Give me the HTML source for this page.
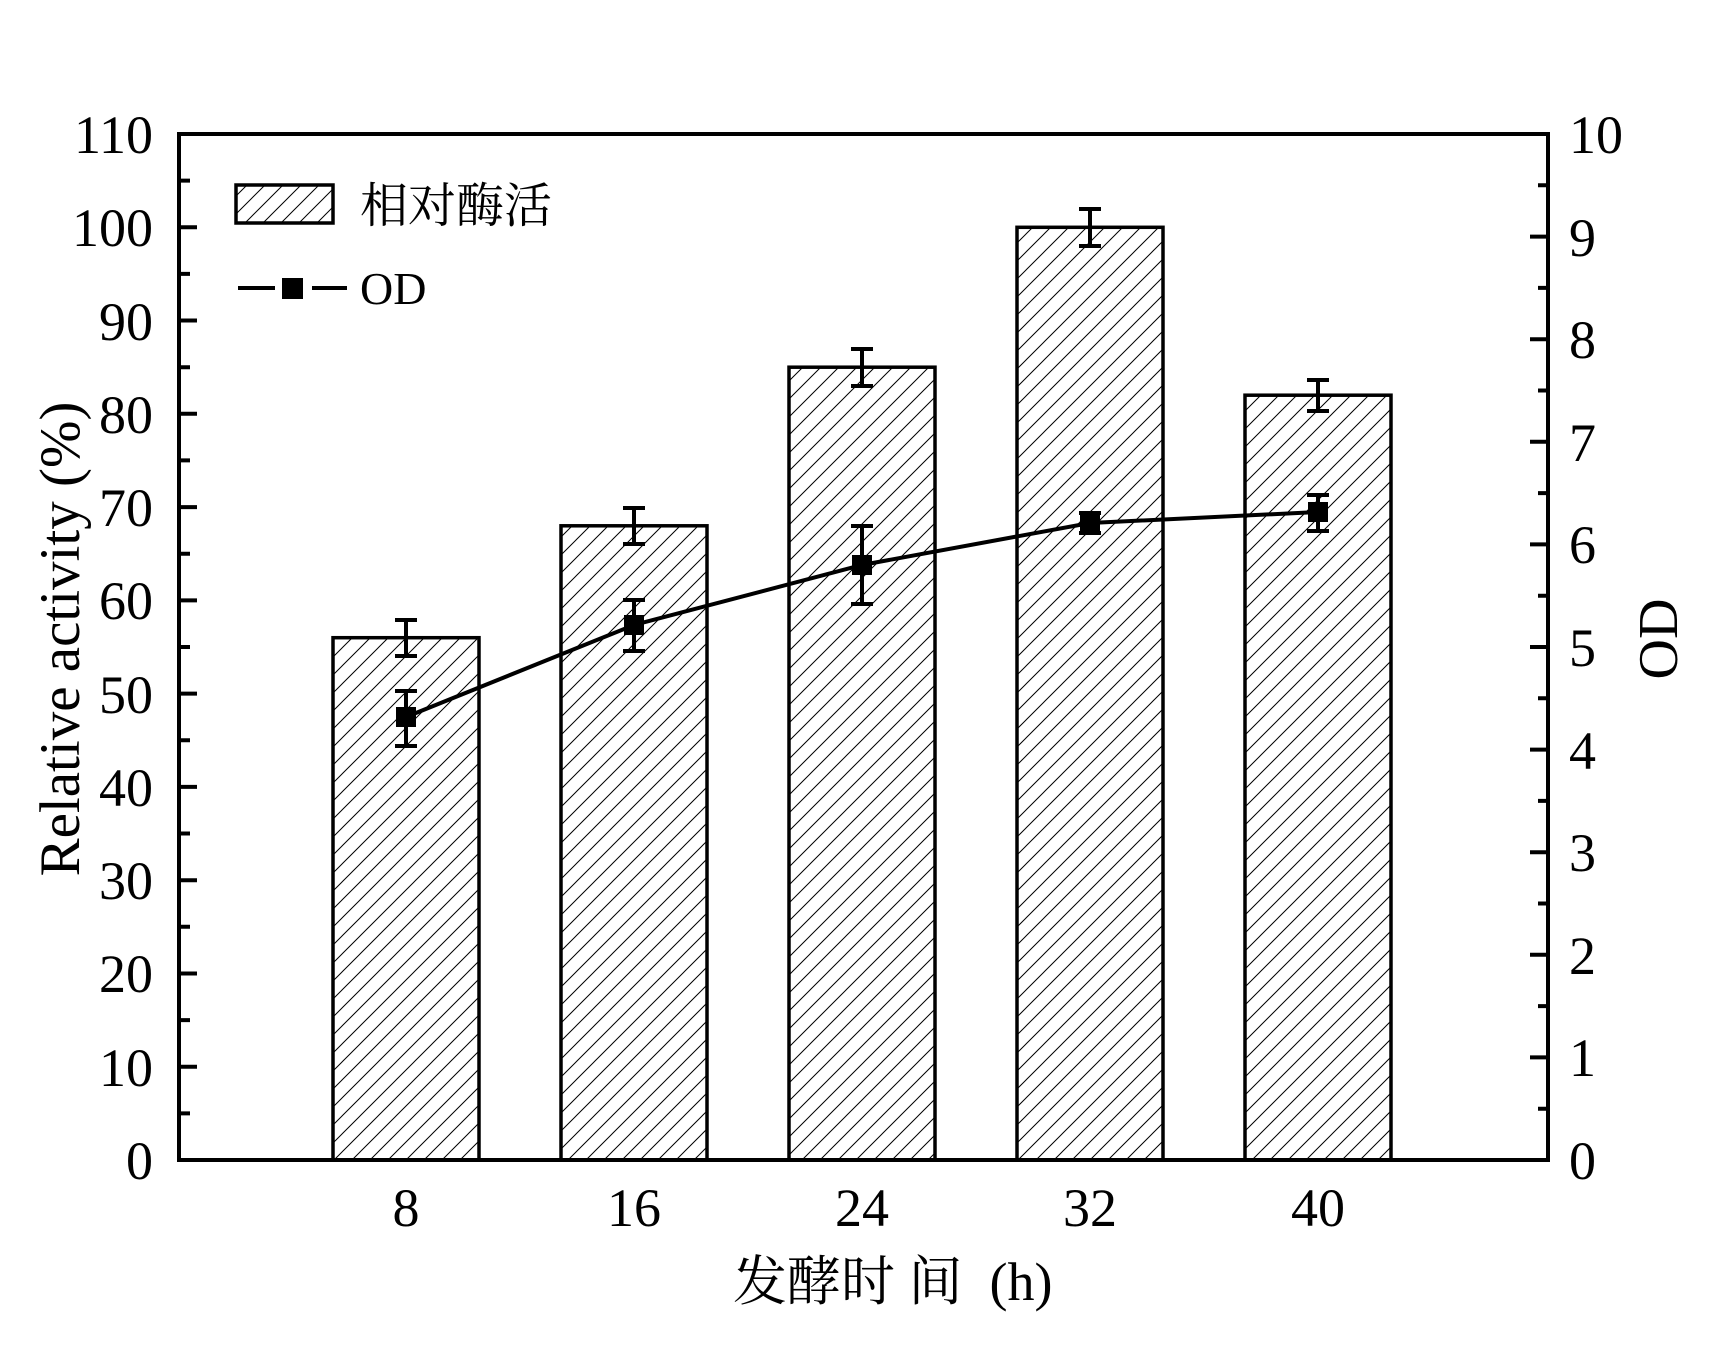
<!DOCTYPE html>
<html><head><meta charset="utf-8"><style>html,body{margin:0;padding:0;background:#fff}svg{display:block}</style></head>
<body>
<svg width="1710" height="1368" viewBox="0 0 1710 1368" xmlns="http://www.w3.org/2000/svg">
<defs>
<pattern id="h" patternUnits="userSpaceOnUse" width="18" height="18">
<path d="M-2,20 L20,-2 M-2,2 L2,-2 M16,20 L20,16" stroke="#000" stroke-width="1"/>
</pattern>
</defs>
<g font-family="Liberation Serif, serif" font-size="54" fill="#000">
<g stroke="#000" stroke-width="3.5" fill="url(#h)">
<rect x="333" y="637.7" width="146" height="522.3"/>
<rect x="561" y="525.8" width="146" height="634.2"/>
<rect x="789" y="367.2" width="146" height="792.8"/>
<rect x="1017" y="227.3" width="146" height="932.7"/>
<rect x="1245" y="395.2" width="146" height="764.8"/>
</g>
<g stroke="#000" stroke-width="4" fill="none">
<path d="M406,620 V656 M395,620 H417 M395,656 H417"/>
<path d="M634,508 V544 M623,508 H645 M623,544 H645"/>
<path d="M862,349 V386 M851,349 H873 M851,386 H873"/>
<path d="M1090,209 V246 M1079,209 H1101 M1079,246 H1101"/>
<path d="M1318,380 V411 M1307,380 H1329 M1307,411 H1329"/>
</g>
<polyline points="406,717 634,625 862,565 1090,523 1318,512" fill="none" stroke="#000" stroke-width="4"/>
<g stroke="#000" stroke-width="4">
<path d="M406,691 V746 M395,691 H417 M395,746 H417"/>
<path d="M634,600 V651 M623,600 H645 M623,651 H645"/>
<path d="M862,526 V604 M851,526 H873 M851,604 H873"/>
<path d="M1090,513 V533 M1079,513 H1101 M1079,533 H1101"/>
<path d="M1318,495 V531 M1307,495 H1329 M1307,531 H1329"/>
</g>
<g fill="#000">
<rect x="396" y="707" width="20" height="20"/>
<rect x="624" y="615" width="20" height="20"/>
<rect x="852" y="555" width="20" height="20"/>
<rect x="1080" y="513" width="20" height="20"/>
<rect x="1308" y="502" width="20" height="20"/>
</g>
<rect x="179" y="134" width="1369" height="1026" fill="none" stroke="#000" stroke-width="4"/>
<g stroke="#000" stroke-width="4">
<path d="M179,1160H197 M179,1066.7H197 M179,973.5H197 M179,880.2H197 M179,786.9H197 M179,693.6H197 M179,600.4H197 M179,507.1H197 M179,413.8H197 M179,320.5H197 M179,227.3H197
M179,1113.4H190 M179,1020.1H190 M179,926.8H190 M179,833.5H190 M179,740.3H190 M179,647H190 M179,553.7H190 M179,460.4H190 M179,367.2H190 M179,273.9H190 M179,180.6H190"/>
<path d="M1548,1160H1530 M1548,1057.4H1530 M1548,954.8H1530 M1548,852.2H1530 M1548,749.6H1530 M1548,647H1530 M1548,544.4H1530 M1548,441.8H1530 M1548,339.2H1530 M1548,236.6H1530
M1548,1108.7H1538 M1548,1006.1H1538 M1548,903.5H1538 M1548,800.9H1538 M1548,698.3H1538 M1548,595.7H1538 M1548,493.1H1538 M1548,390.5H1538 M1548,287.9H1538 M1548,185.3H1538"/>
</g>
<g text-anchor="end">
<text x="153" y="1179">0</text><text x="153" y="1086">10</text><text x="153" y="992">20</text><text x="153" y="899">30</text><text x="153" y="806">40</text><text x="153" y="713">50</text><text x="153" y="619">60</text><text x="153" y="526">70</text><text x="153" y="433">80</text><text x="153" y="340">90</text><text x="153" y="246">100</text><text x="153" y="153">110</text>
</g>
<g>
<text x="1569" y="1179">0</text><text x="1569" y="1076">1</text><text x="1569" y="974">2</text><text x="1569" y="871">3</text><text x="1569" y="769">4</text><text x="1569" y="666">5</text><text x="1569" y="563">6</text><text x="1569" y="461">7</text><text x="1569" y="358">8</text><text x="1569" y="256">9</text><text x="1569" y="153">10</text>
</g>
<g text-anchor="middle">
<text x="406" y="1226">8</text><text x="634" y="1226">16</text><text x="862" y="1226">24</text><text x="1090" y="1226">32</text><text x="1318" y="1226">40</text>
</g>
<text transform="translate(79,639) rotate(-90)" text-anchor="middle" font-size="57">Relative activity (%)</text>
<text transform="translate(1677,639) rotate(-90)" text-anchor="middle" font-size="56">OD</text>
<text x="733" y="1300" font-family="Liberation Serif, 'Noto Serif CJK SC', serif" font-size="54" xml:space="preserve">发酵时 间  (h)</text>
<rect x="236" y="185" width="97" height="38" fill="url(#h)" stroke="#000" stroke-width="3.5"/>
<text x="360" y="222" font-family="Liberation Serif, 'Noto Serif CJK SC', serif" font-size="48">相对酶活</text>
<path d="M238,288H275 M312,288H347" stroke="#000" stroke-width="4"/>
<rect x="282" y="278" width="21" height="21" fill="#000"/>
<text x="360" y="304" font-size="46">OD</text>
</g>
</svg>
</body></html>
